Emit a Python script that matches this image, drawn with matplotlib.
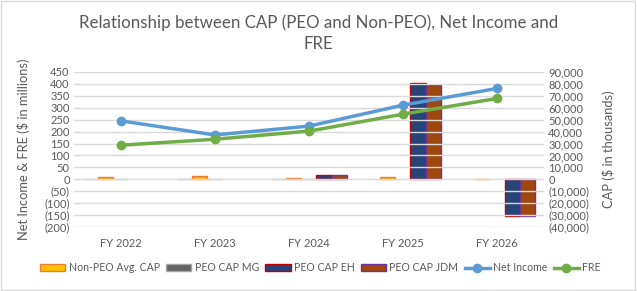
import numpy as np
import matplotlib
matplotlib.use("Agg")
from matplotlib import pyplot as plt
from matplotlib.ticker import FuncFormatter, MultipleLocator
from matplotlib.patches import Rectangle

# chart data
years = ["FY 2022", "FY 2023", "FY 2024", "FY 2025", "FY 2026"]
net_income = [245, 186, 223, 311, 381]          # $ millions
fre = [143, 168, 202, 273, 339]                 # $ millions
hidden_cap = [0, 0, 0, np.nan, np.nan]          # unlabelled series, $ thousands
non_peo_cap = [1700, 2500, 900, 2300, 300]      # $ thousands
peo_cap_mg = [0, 0, 0, np.nan, np.nan]
peo_cap_eh = [np.nan, np.nan, 4000, 80500, -30500]
peo_cap_jdm = [np.nan, np.nan, 3400, 79000, -30500]

plt.rcParams['font.family'] = ['Lato', 'DejaVu Sans']
text_col = "#595959"

fig = plt.figure(figsize=(6.37, 2.91), dpi=100)
fig.patches.append(Rectangle((0.002, 0.003), 0.995, 0.994, transform=fig.transFigure,
                             fill=False, edgecolor="#D9D9D9", linewidth=1))
ax = fig.add_axes([0.116, 0.22, 0.738, 0.5326])
ax2 = ax.twinx()

x = np.arange(len(years))
w = 0.16
bar_series = [
    (hidden_cap, "#A5A5A5", "#A5A5A5", None),
    (non_peo_cap, "#FFC000", "#ED7D31", "Non-PEO Avg. CAP"),
    (peo_cap_mg, "#636363", "#A5A5A5", "PEO CAP MG"),
    (peo_cap_eh, "#264478", "#C00000", "PEO CAP EH"),
    (peo_cap_jdm, "#9E480E", "#7030A0", "PEO CAP JDM"),
]
handles = []
for i, (vals, fc, ec, lab) in enumerate(bar_series):
    off = (i - 2) * w
    b = ax2.bar(x + off, vals, width=w, facecolor=fc, edgecolor=ec, linewidth=1.0)
    if lab:
        handles.append((b, lab))

l1, = ax.plot(x, net_income, color="#5B9BD5", lw=2.5, marker="o", ms=6, label="Net Income")
l2, = ax.plot(x, fre, color="#70AD47", lw=2.5, marker="o", ms=6, label="FRE")
ax.set_zorder(ax2.get_zorder() + 1)
ax.patch.set_visible(False)

ax.set_xlim(-0.5, 4.5)
ax.set_ylim(-200, 450)
ax2.set_ylim(-40000, 90000)
ax.yaxis.set_major_locator(MultipleLocator(50))
ax2.yaxis.set_major_locator(MultipleLocator(10000))


def paren(v, pos):
    s = "{:,.0f}".format(abs(v))
    return "({})".format(s) if v < 0 else s


ax.yaxis.set_major_formatter(FuncFormatter(paren))
ax2.yaxis.set_major_formatter(FuncFormatter(paren))
ax.grid(axis="y", color="#D9D9D9", lw=1)
ax.set_axisbelow(True)
ax.set_xticks(x)
ax.set_xticklabels(years)
for a in (ax, ax2):
    for s in a.spines.values():
        s.set_visible(False)
    a.tick_params(length=0, labelsize=8, colors=text_col, pad=3)
ax.tick_params(axis="x", pad=8)

ax.set_ylabel("Net Income & FRE ($ in millions)", fontsize=9.3, color=text_col, labelpad=10)
ax2.set_ylabel("CAP ($ in thousands)", fontsize=9.3, color=text_col, labelpad=9)

fig.text(0.5, 0.885, "Relationship between CAP (PEO and Non-PEO), Net Income and\nFRE",
         ha="center", va="center", fontsize=12.2, color=text_col, linespacing=1.35)

leg = fig.legend([h for h, _ in handles] + [l1, l2], [lab for _, lab in handles] + ["Net Income", "FRE"],
                 loc="center", bbox_to_anchor=(0.503, 0.08), ncol=6, frameon=False,
                 fontsize=7.6, handlelength=2.4, handleheight=0.6, handletextpad=0.3,
                 columnspacing=0.6, labelcolor=text_col)

fig.savefig("out.png", dpi=100)
